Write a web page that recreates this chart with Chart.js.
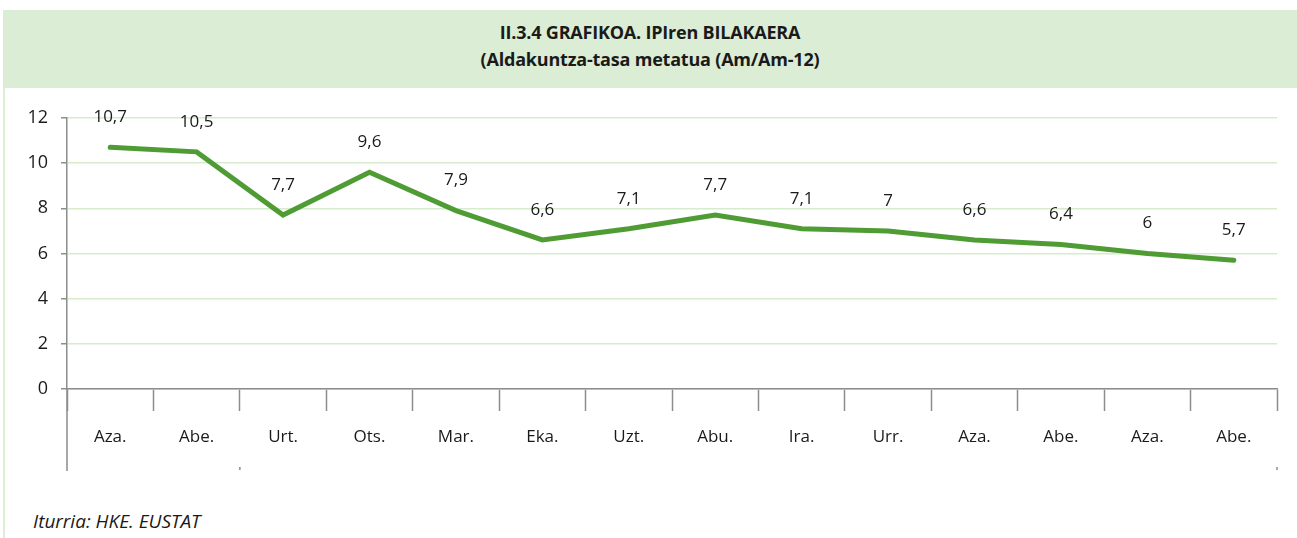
<!DOCTYPE html>
<html>
<head>
<meta charset="utf-8">
<script src="https://cdn.jsdelivr.net/npm/chart.js@4/dist/chart.umd.min.js"></script>
<style>
    body { margin: 0; background: #fff; font-family: "Open Sans", sans-serif; }
    #banda {
        position: absolute; left: 3px; top: 10px; width: 1294px; height: 78px;
        background: #dcedd5; text-align: center; color: #1a1a1a;
        font-weight: 700; font-size: 18px; line-height: 27px; padding-top: 9px; box-sizing: border-box;
        letter-spacing: -0.2px;
    }
    #borde { position: absolute; left: 3px; top: 88px; width: 2px; height: 450px; background: #dcedd5; }
    #grafico { position: absolute; left: 0; top: 88px; width: 1297px; height: 400px; }
    #iturria { position: absolute; left: 33px; top: 508px; font-style: italic; font-size: 19px; color: #1a1a1a; line-height: 26px; }
</style>
</head>
<body>
<div id="banda">II.3.4 GRAFIKOA. IPIren BILAKAERA<br>(Aldakuntza-tasa metatua (Am/Am-12)</div>
<div id="borde"></div>
<div id="grafico"><canvas id="ipiChart"></canvas></div>
<div id="iturria">Iturria: HKE. EUSTAT</div>

<script>
const hilabeteak = ['Aza.', 'Abe.', 'Urt.', 'Ots.', 'Mar.', 'Eka.', 'Uzt.', 'Abu.', 'Ira.', 'Urr.', 'Aza.', 'Abe.', 'Aza.', 'Abe.'];
const ipiBalioak = [10.7, 10.5, 7.7, 9.6, 7.9, 6.6, 7.1, 7.7, 7.1, 7, 6.6, 6.4, 6, 5.7];
const yTickak = [0, 2, 4, 6, 8, 10, 12];

// etiketak puntuen gainean, koma hamartarrarekin
const etiketakPlugin = {
    id: 'etiketak',
    afterDatasetsDraw(chart) {
        const ctx = chart.ctx;
        const meta = chart.getDatasetMeta(0);
        ctx.save();
        ctx.font = '17px "Open Sans"';
        ctx.fillStyle = '#1a1a1a';
        ctx.textAlign = 'center';
        ctx.textBaseline = 'middle';
        meta.data.forEach((p, i) => {
            ctx.fillText(String(ipiBalioak[i]).replace('.', ','), p.x, p.y - 30);
        });
        ctx.restore();
    }
};

// ardatzaren azpiko lerro luzea eta urte marka txikiak
const lerroakPlugin = {
    id: 'lerroak',
    afterDraw(chart) {
        const ctx = chart.ctx;
        const x = chart.scales.x;
        const behea = chart.chartArea.bottom;
        const zab = (x.right - x.left) / hilabeteak.length;
        ctx.save();
        ctx.strokeStyle = '#8c8c8c';
        ctx.lineWidth = 1.5;
        ctx.beginPath();
        ctx.moveTo(x.left, behea);
        ctx.lineTo(x.left, behea + 82);
        ctx.moveTo(x.left + zab * 2, behea + 78);
        ctx.lineTo(x.left + zab * 2, behea + 81);
        ctx.moveTo(x.right, behea + 78);
        ctx.lineTo(x.right, behea + 81);
        ctx.stroke();
        ctx.restore();
    }
};

function marraztuGrafikoa() {
    const ctx = document.getElementById('ipiChart').getContext('2d');

    new Chart(ctx, {
        type: 'line',
        data: {
            labels: hilabeteak,
            datasets: [{
                data: ipiBalioak,
                borderColor: '#4f9b34',
                borderWidth: 5,
                borderCapStyle: 'round',
                pointRadius: 0,
                tension: 0,
                fill: false
            }]
        },
        options: {
            responsive: true,
            maintainAspectRatio: false,
            animation: false,
            layout: { padding: { top: 30, right: 20, left: 0, bottom: 0 } },
            plugins: { legend: { display: false }, tooltip: { enabled: false } },
            scales: {
                x: {
                    offset: true,
                    grid: {
                        offset: true,
                        drawOnChartArea: false,
                        tickLength: 22,
                        tickColor: '#8c8c8c',
                        tickWidth: 1.5
                    },
                    border: { color: '#8c8c8c', width: 1.5 },
                    ticks: {
                        color: '#1a1a1a',
                        font: { family: 'Open Sans', size: 17 },
                        padding: 16,
                        maxRotation: 0,
                        autoSkip: false
                    },
                    afterFit(scale) { scale.height = 99; }
                },
                y: {
                    min: 0,
                    max: 12,
                    afterBuildTicks(scale) { scale.ticks = yTickak.map(v => ({ value: v })); },
                    grid: {
                        color: '#d7ebcd',
                        lineWidth: 1.5,
                        tickLength: 6,
                        tickColor: '#8c8c8c'
                    },
                    border: { color: '#8c8c8c', width: 1.5 },
                    ticks: {
                        color: '#1a1a1a',
                        font: { family: 'Open Sans', size: 18 },
                        padding: 13
                    },
                    afterFit(scale) { scale.width = 67; }
                }
            }
        },
        plugins: [etiketakPlugin, lerroakPlugin]
    });
}

marraztuGrafikoa();
</script>
</body>
</html>
